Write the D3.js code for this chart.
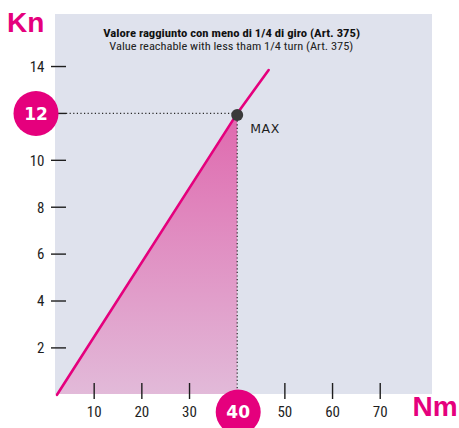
<!DOCTYPE html>
<html>
<head>
<meta charset="utf-8">
<script src="https://cdn.jsdelivr.net/npm/d3@7"></script>
<style>
  html, body { margin: 0; padding: 0; background: #ffffff; }
  svg { display: block; }
</style>
</head>
<body>
<svg id="chart" width="459" height="428"></svg>
<script>
// Tightening torque (Nm) vs clamping force (Kn)
const xTicks = [10, 20, 30, 50, 60, 70];
const yTicks = [2, 4, 6, 8, 10, 12, 14];
const yTickLabels = ["2", "4", "6", "8", "10", "", "14"];
const forceLine = [[2.2, 0], [40, 12], [46.6, 13.85]];   // [Nm, Kn]
const reachable = [[2.2, 0], [40, 12], [40, 0]];          // shaded region
const maxPoint = { nm: 40, kn: 12, label: "MAX" };
const titleLines = [
  "Valore raggiunto con meno di 1/4 di giro (Art. 375)",
  "Value reachable with less tham 1/4 turn (Art. 375)"
];
const axisNames = { x: "Nm", y: "Kn" };

const MAGENTA = "#e5007d";
const svg = d3.select("#chart");

const plot = { left: 55, right: 432, top: 14, bottom: 394 };

const x = d3.scaleLinear().domain([0, 80]).range([46.5, 427.9]);
const y = d3.scaleLinear().domain([0, 16.24]).range([394.8, 14]);

// plot background
svg.append("rect")
  .attr("x", plot.left).attr("y", plot.top)
  .attr("width", plot.right - plot.left).attr("height", plot.bottom - plot.top)
  .attr("fill", "#dfe2ed");

// gradient for the reachable area
const defs = svg.append("defs");
const grad = defs.append("linearGradient")
  .attr("id", "areaGrad").attr("gradientUnits", "userSpaceOnUse")
  .attr("x1", 0).attr("x2", 0).attr("y1", y(12)).attr("y2", y(0));
grad.append("stop").attr("offset", 0).attr("stop-color", "#df69ae");
grad.append("stop").attr("offset", 1).attr("stop-color", "#e2bad9");

svg.append("path")
  .datum(reachable)
  .attr("d", d3.line().x(d => x(d[0])).y(d => Math.min(y(d[1]), plot.bottom)))
  .attr("fill", "url(#areaGrad)");

// axis ticks
const tickColor = "#1e1e1e";
const labelFont = "'Liberation Sans Narrow', 'Roboto Condensed', 'Liberation Sans', Arial, sans-serif";

svg.append("g").selectAll("line").data(yTicks).join("line")
  .attr("x1", 51).attr("x2", 66)
  .attr("y1", d => y(d)).attr("y2", d => y(d))
  .attr("stroke", tickColor).attr("stroke-width", 1.4);

svg.append("g").selectAll("text").data(yTicks).join("text")
  .attr("x", 44.5).attr("y", d => y(d) + 5.3)
  .attr("text-anchor", "end")
  .attr("font-family", labelFont).attr("font-size", 15).attr("fill", "#1e1e1e")
  .text((d, i) => yTickLabels[i]);

svg.append("g").selectAll("line").data(xTicks).join("line")
  .attr("x1", d => x(d)).attr("x2", d => x(d))
  .attr("y1", 383).attr("y2", 399)
  .attr("stroke", tickColor).attr("stroke-width", 1.4);

svg.append("g").selectAll("text").data(xTicks).join("text")
  .attr("x", d => x(d)).attr("y", 417)
  .attr("text-anchor", "middle")
  .attr("font-family", labelFont).attr("font-size", 15).attr("fill", "#1e1e1e")
  .text(d => d);

// guide lines to the maximum
svg.append("line")
  .attr("x1", 66).attr("x2", x(maxPoint.nm))
  .attr("y1", y(maxPoint.kn)).attr("y2", y(maxPoint.kn))
  .attr("stroke", "#2a2a2a").attr("stroke-width", 1.2).attr("stroke-dasharray", "1.2,2.4");
svg.append("line")
  .attr("x1", x(maxPoint.nm)).attr("x2", x(maxPoint.nm))
  .attr("y1", y(maxPoint.kn)).attr("y2", 400)
  .attr("stroke", "#2a2a2a").attr("stroke-width", 1.2).attr("stroke-dasharray", "1.2,2.4");

// force line
svg.append("path")
  .datum(forceLine)
  .attr("d", d3.line().x(d => x(d[0])).y(d => y(d[1])))
  .attr("fill", "none").attr("stroke", MAGENTA)
  .attr("stroke-width", 2.6).attr("stroke-linecap", "round");

// max point
svg.append("circle")
  .attr("cx", x(maxPoint.nm)).attr("cy", y(maxPoint.kn) + 1.5).attr("r", 6)
  .attr("fill", "#3a3a3a");
svg.append("text")
  .attr("x", x(maxPoint.nm) + 13).attr("y", y(maxPoint.kn) + 19.5)
  .attr("font-family", "'DejaVu Sans', sans-serif").attr("font-size", 12.5)
  .attr("letter-spacing", 0.6).attr("fill", "#1e1e1e")
  .text(maxPoint.label);

// value badges
const badges = [
  { cx: 36, cy: y(maxPoint.kn), text: String(maxPoint.kn) },
  { cx: x(maxPoint.nm) + 1, cy: 412, text: String(maxPoint.nm) }
];
const badge = svg.append("g").selectAll("g").data(badges).join("g");
badge.append("circle")
  .attr("cx", d => d.cx).attr("cy", d => d.cy).attr("r", 22.5)
  .attr("fill", MAGENTA);
badge.append("text")
  .attr("x", d => d.cx).attr("y", d => d.cy + 6.2)
  .attr("text-anchor", "middle")
  .attr("font-family", "'DejaVu Sans', sans-serif").attr("font-weight", "bold")
  .attr("font-size", 17).attr("fill", "#ffffff")
  .text(d => d.text);

// axis names
svg.append("text")
  .attr("x", 7).attr("y", 32)
  .attr("font-family", "'Liberation Sans', Arial, sans-serif").attr("font-weight", "bold")
  .attr("font-size", 28).attr("fill", MAGENTA)
  .text(axisNames.y);
svg.append("text")
  .attr("x", 412.5).attr("y", 416)
  .attr("font-family", "'Liberation Sans', Arial, sans-serif").attr("font-weight", "bold")
  .attr("font-size", 28).attr("fill", MAGENTA)
  .text(axisNames.x);

// title
svg.append("text")
  .attr("x", 103.3).attr("y", 37)
  .attr("font-family", labelFont).attr("font-weight", "bold")
  .attr("font-size", 10.5).attr("fill", "#111")
  .attr("textLength", 256.7).attr("lengthAdjust", "spacingAndGlyphs")
  .text(titleLines[0]);
svg.append("text")
  .attr("x", 109.3).attr("y", 50)
  .attr("font-family", labelFont)
  .attr("font-size", 10.5).attr("fill", "#222")
  .attr("textLength", 244).attr("lengthAdjust", "spacingAndGlyphs")
  .text(titleLines[1]);
</script>
</body>
</html>
